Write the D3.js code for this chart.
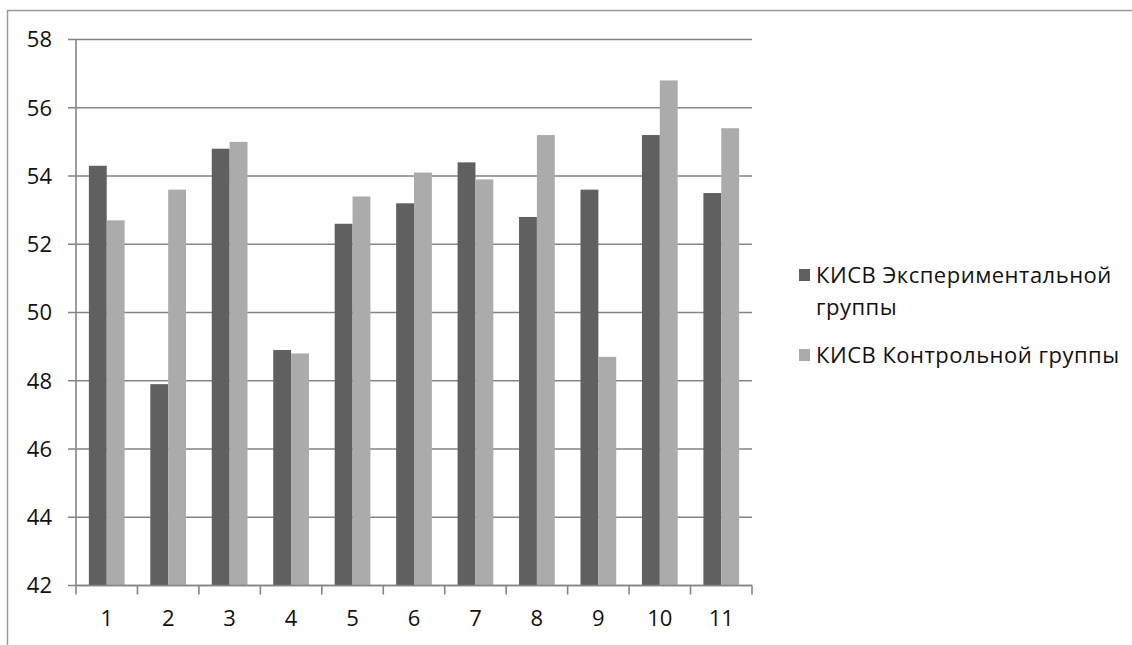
<!DOCTYPE html>
<html>
<head>
<meta charset="utf-8">
<script src="https://cdn.jsdelivr.net/npm/d3@7"></script>
<style>
  html, body { margin: 0; padding: 0; background: #fff; }
  svg { display: block; font-family: "Open Sans", sans-serif; }
</style>
</head>
<body>
<svg id="chart" width="1132" height="645"></svg>
<script>
// Categories along the x axis
const categories = ["1", "2", "3", "4", "5", "6", "7", "8", "9", "10", "11"];
// Series names and values
const seriesNames = ["КИСВ Экспериментальной группы", "КИСВ Контрольной группы"];
const experimental = [54.3, 47.9, 54.8, 48.9, 52.6, 53.2, 54.4, 52.8, 53.6, 55.2, 53.5];
const control      = [52.7, 53.6, 55.0, 48.8, 53.4, 54.1, 53.9, 55.2, 48.7, 56.8, 55.4];
// Value axis ticks
const yTicks = [42, 44, 46, 48, 50, 52, 54, 56, 58];

const colors = ["#606060", "#ababab"];

const svg = d3.select("#chart");

// Outer chart frame (top and left edges)
svg.append("path")
  .attr("d", "M7.5,645 L7.5,10.5 L1132,10.5")
  .attr("fill", "none")
  .attr("stroke", "#9a9a9a")
  .attr("stroke-width", 1.5);

const plot = { left: 76, right: 752, top: 39.5, bottom: 585.5 };

const x = d3.scaleBand().domain(categories).range([plot.left, plot.right]).paddingInner(0).paddingOuter(0);
const y = d3.scaleLinear().domain([42, 58]).range([plot.bottom, plot.top]);

// Horizontal gridlines with left tick marks
const grid = svg.append("g");
grid.selectAll("line")
  .data(yTicks)
  .join("line")
  .attr("x1", plot.left - 8)
  .attr("x2", plot.right)
  .attr("y1", d => y(d))
  .attr("y2", d => y(d))
  .attr("stroke", "#858585")
  .attr("stroke-width", 1.6);

// Bars: two per category
const inner = d3.scaleBand().domain([0, 1]).range([0, x.bandwidth()]).paddingOuter(0.72).paddingInner(0);
const seriesData = [experimental, control];

seriesData.forEach((vals, si) => {
  svg.append("g").selectAll("rect")
    .data(vals)
    .join("rect")
    .attr("x", (d, i) => x(categories[i]) + inner(si))
    .attr("width", inner.bandwidth())
    .attr("y", d => y(d))
    .attr("height", d => y(42) - y(d))
    .attr("fill", colors[si]);
});

// Vertical value axis line
svg.append("line")
  .attr("x1", plot.left).attr("x2", plot.left)
  .attr("y1", plot.top).attr("y2", plot.bottom)
  .attr("stroke", "#858585").attr("stroke-width", 1.6);

// Category axis with tick marks at band boundaries
const xAxis = svg.append("g");
xAxis.append("line")
  .attr("x1", plot.left).attr("x2", plot.right)
  .attr("y1", plot.bottom).attr("y2", plot.bottom)
  .attr("stroke", "#858585").attr("stroke-width", 1.6);
const boundaries = categories.map(c => x(c)).concat([plot.right]);
xAxis.selectAll("line.tick")
  .data(boundaries)
  .join("line")
  .attr("class", "tick")
  .attr("x1", d => d).attr("x2", d => d)
  .attr("y1", plot.bottom).attr("y2", plot.bottom + 9)
  .attr("stroke", "#858585").attr("stroke-width", 1.6);

// Category labels
svg.append("g").selectAll("text")
  .data(categories)
  .join("text")
  .attr("x", d => x(d) + x.bandwidth() / 2)
  .attr("y", 626)
  .attr("text-anchor", "middle")
  .attr("font-size", 22)
  .attr("fill", "#111")
  .text(d => d);

// Value labels
svg.append("g").selectAll("text")
  .data(yTicks)
  .join("text")
  .attr("x", 52)
  .attr("y", d => y(d))
  .attr("dy", "0.36em")
  .attr("text-anchor", "end")
  .attr("font-size", 22)
  .attr("fill", "#111")
  .text(d => d);

// Legend
const legend = svg.append("g");
const legendItems = [
  { lines: ["КИСВ Экспериментальной", "группы"], y: 283, color: colors[0] },
  { lines: ["КИСВ Контрольной группы"], y: 363, color: colors[1] }
];
legendItems.forEach(item => {
  legend.append("rect")
    .attr("x", 799).attr("y", item.y - 14)
    .attr("width", 11).attr("height", 12)
    .attr("fill", item.color);
  item.lines.forEach((t, li) => {
    legend.append("text")
      .attr("x", 816)
      .attr("y", item.y + li * 32)
      .attr("font-size", 22)
      .attr("letter-spacing", 0.5)
      .attr("fill", "#111")
      .text(t);
  });
});
</script>
</body>
</html>
